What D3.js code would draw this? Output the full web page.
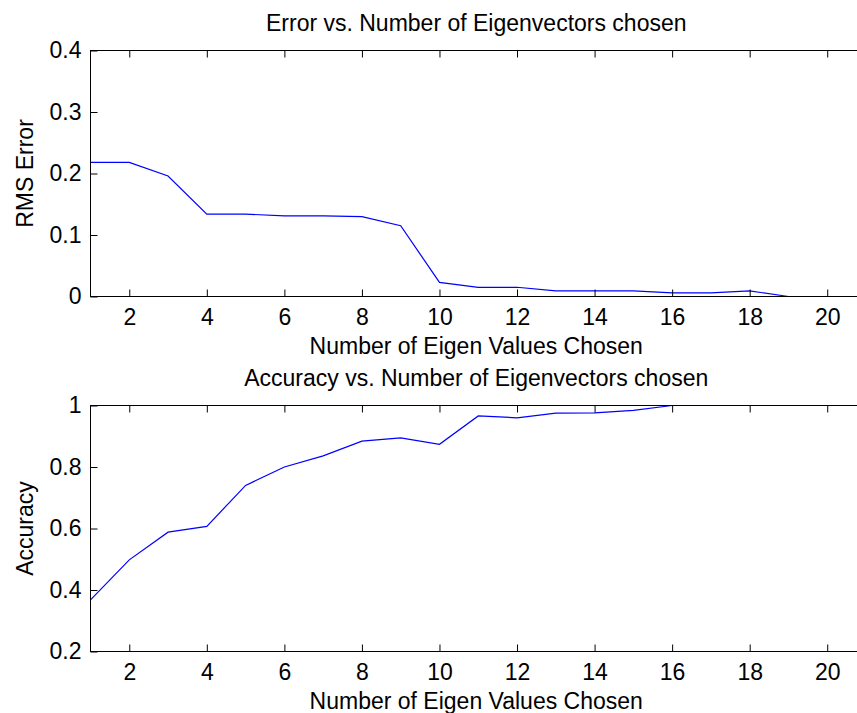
<!DOCTYPE html>
<html>
<head>
<meta charset="utf-8">
<script src="https://cdn.jsdelivr.net/npm/d3@7"></script>
<style>
  body { margin: 0; background: #fff; }
  text { font-family: "Liberation Sans", Arial, sans-serif; fill: #000; }
</style>
</head>
<body>
<div id="charts"></div>
<script>

// number of eigenvectors used
var eigenCounts = [1, 2, 3, 4, 5, 6, 7, 8, 9, 10, 11, 12, 13, 14, 15, 16, 17, 18, 19];

// RMS error
var rmsError = [0.218, 0.218, 0.196, 0.134, 0.134, 0.131, 0.131, 0.130, 0.115, 0.023,
                0.015, 0.015, 0.009, 0.009, 0.009, 0.006, 0.006, 0.009, 0];

// accuracy
var accuracy = [0.368, 0.498, 0.588, 0.607, 0.740, 0.800, 0.836, 0.884, 0.895, 0.874,
                0.966, 0.960, 0.975, 0.976, 0.984, 1, 1, 1, 1];

var xTicks = [2, 4, 6, 8, 10, 12, 14, 16, 18, 20];
var errorTicks = [0, 0.1, 0.2, 0.3, 0.4];
var accuracyTicks = [0.2, 0.4, 0.6, 0.8, 1];

var svgWidth = 857;
var svgHeight = 713;
var fontSize = 23;

var left = 90.5, right = 866;

var svg = d3.select("#charts")
  .append("svg")
  .attr("width", svgWidth)
  .attr("height", svgHeight);

var xScale = d3.scaleLinear()
  .domain([1, 21])
  .range([left, right]);

function drawPanel(opts) {
  var yScale = d3.scaleLinear()
    .domain(opts.domain)
    .range([opts.bottom, opts.top]);

  var g = svg.append("g");

  var points = eigenCounts.map((d, i) => [d, opts.values[i]]);

  var line = d3.line()
    .x(d => xScale(d[0]))
    .y(d => yScale(d[1]));

  g.append("path")
    .datum(points)
    .attr("d", line)
    .attr("fill", "none")
    .attr("stroke", "#0000ff")
    .attr("stroke-width", 1.2);

  // ticks point inward on all four sides
  var xBottom = d3.axisBottom(xScale).tickValues(xTicks).tickSize(-7).tickPadding(12).tickFormat(d3.format("d"));
  var xTop = d3.axisTop(xScale).tickValues(xTicks).tickSize(-7).tickFormat("");
  var yLeft = d3.axisLeft(yScale).tickValues(opts.ticks).tickSize(-7).tickPadding(9).tickFormat(d => String(d));
  var yRight = d3.axisRight(yScale).tickValues(opts.ticks).tickSize(-7).tickFormat("");

  var ax = [
    [xBottom, `translate(0, ${opts.bottom})`],
    [xTop, `translate(0, ${opts.top})`],
    [yLeft, `translate(${left}, 0)`],
    [yRight, `translate(${right}, 0)`]
  ];
  ax.forEach(function(a) {
    var axisG = g.append("g").attr("transform", a[1]).call(a[0]);
    axisG.select(".domain").remove();
    axisG.selectAll("line").attr("stroke", "#000");
    axisG.selectAll("text").attr("font-size", fontSize).attr("font-family", "Liberation Sans, Arial, sans-serif").attr("fill", "#000");
  });

  g.append("rect")
    .attr("x", left)
    .attr("y", opts.top)
    .attr("width", right - left)
    .attr("height", opts.bottom - opts.top)
    .attr("fill", "none")
    .attr("stroke", "#000")
    .attr("stroke-width", 1);

  var mid = (left + right) / 2 - 2;

  g.append("text")
    .attr("x", mid)
    .attr("y", opts.top - 20)
    .attr("text-anchor", "middle")
    .attr("font-size", fontSize)
    .text(opts.title);

  g.append("text")
    .attr("x", mid)
    .attr("y", opts.bottom + 57)
    .attr("text-anchor", "middle")
    .attr("font-size", fontSize)
    .text("Number of Eigen Values Chosen");

  g.append("text")
    .attr("transform", `translate(33, ${(opts.top + opts.bottom) / 2}) rotate(-90)`)
    .attr("text-anchor", "middle")
    .attr("font-size", fontSize)
    .text(opts.ylabel);
}

drawPanel({
  values: rmsError,
  domain: [0, 0.4],
  ticks: errorTicks,
  top: 50.5,
  bottom: 296.5,
  title: "Error vs. Number of Eigenvectors chosen",
  ylabel: "RMS Error"
});

drawPanel({
  values: accuracy,
  domain: [0.2, 1],
  ticks: accuracyTicks,
  top: 405.5,
  bottom: 651.5,
  title: "Accuracy vs. Number of Eigenvectors chosen",
  ylabel: "Accuracy"
});

</script>
</body>
</html>
